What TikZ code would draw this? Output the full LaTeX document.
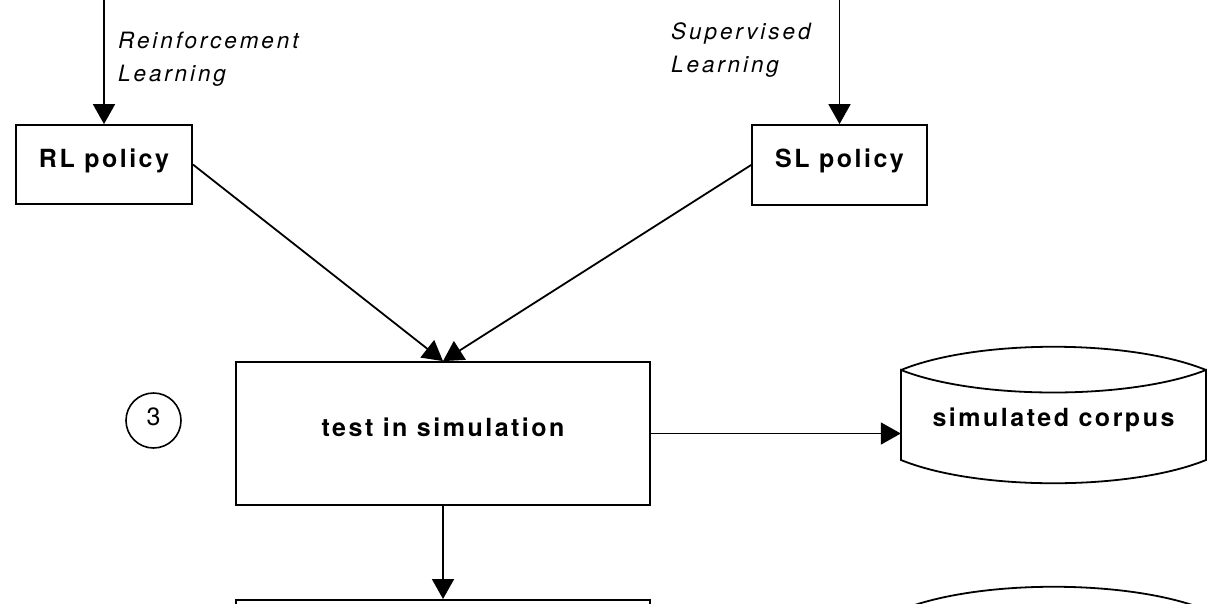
\documentclass[tikz,border=0pt]{standalone}
\usepackage{fontspec}
\setmainfont{TeX Gyre Heros}
\newfontfamily\boxfont[LetterSpace=10]{TeX Gyre Heros}
\newfontfamily\notefont[LetterSpace=13]{TeX Gyre Heros}
\usetikzlibrary{arrows.meta}

\begin{document}
\begin{tikzpicture}[x=1pt,y=-1pt,
    box/.style={draw,line width=1.8pt,text height=18pt,text depth=13pt,
        font=\boxfont\bfseries\fontsize{25}{30}\selectfont},
    arr/.style={line width=1.8pt,-{Triangle[length=20pt,width=22pt]}},
    note/.style={inner sep=0pt,anchor=north west,align=left,
        font=\notefont\itshape\fontsize{22.5}{33}\selectfont}]
    \useasboundingbox (0,0) rectangle (1207,603);
    \clip (0,0) rectangle (1207,603);

    %policies
    \node[box,minimum width=176pt,minimum height=79pt] (rl) at (104,164.5) {RL policy};
    \node[box,minimum width=175pt,minimum height=80pt] (sl) at (839.5,165) {SL policy};
    \coordinate (rlsrc) at (104,-10);
    \coordinate (slsrc) at (839.5,-10);
    \node[note] (rlnote) at (118,32) {Reinforcement\\Learning};
    \node[note] (slnote) at (671,22) {Supervised\\Learning};

    %simulation step
    \node[draw,circle,line width=1.6pt,minimum size=55pt,inner sep=0pt,
        text height=18pt,text depth=9pt,font=\fontsize{25}{30}\selectfont] (step3) at (153.5,420.5) {3};
    \node[box,minimum width=414pt,minimum height=143pt] (test) at (443,433.5) {test in simulation};
    \node[box,minimum width=414pt,minimum height=143pt,anchor=north] (next) at (443,599) {};

    %stored corpora
    \foreach \dy in {0,240} {
        \draw[line width=1.8pt] (901,370+\dy) .. controls (977,339+\dy) and (1130,339+\dy) .. (1206,370+\dy)
            (901,370+\dy) .. controls (977,400+\dy) and (1130,400+\dy) .. (1206,370+\dy)
            -- (1206,460+\dy) .. controls (1130,491+\dy) and (977,491+\dy) .. (901,460+\dy) -- cycle;
    }
    \node[minimum width=305pt,font=\boxfont\bfseries\fontsize{25}{30}\selectfont] (corpus) at (1053.5,420) {simulated corpus};

    %connectors
    \draw[arr] (rlsrc) -- (rl);
    \draw[arr] (slsrc) -- (sl);
    \draw[arr] (rl.east) -- (test.north);
    \draw[arr] (sl.west) -- (test.north);
    \draw[arr] (test.east) -- (test.east -| corpus.west);
    \draw[arr] (test) -- (next);
\end{tikzpicture}
\end{document}
